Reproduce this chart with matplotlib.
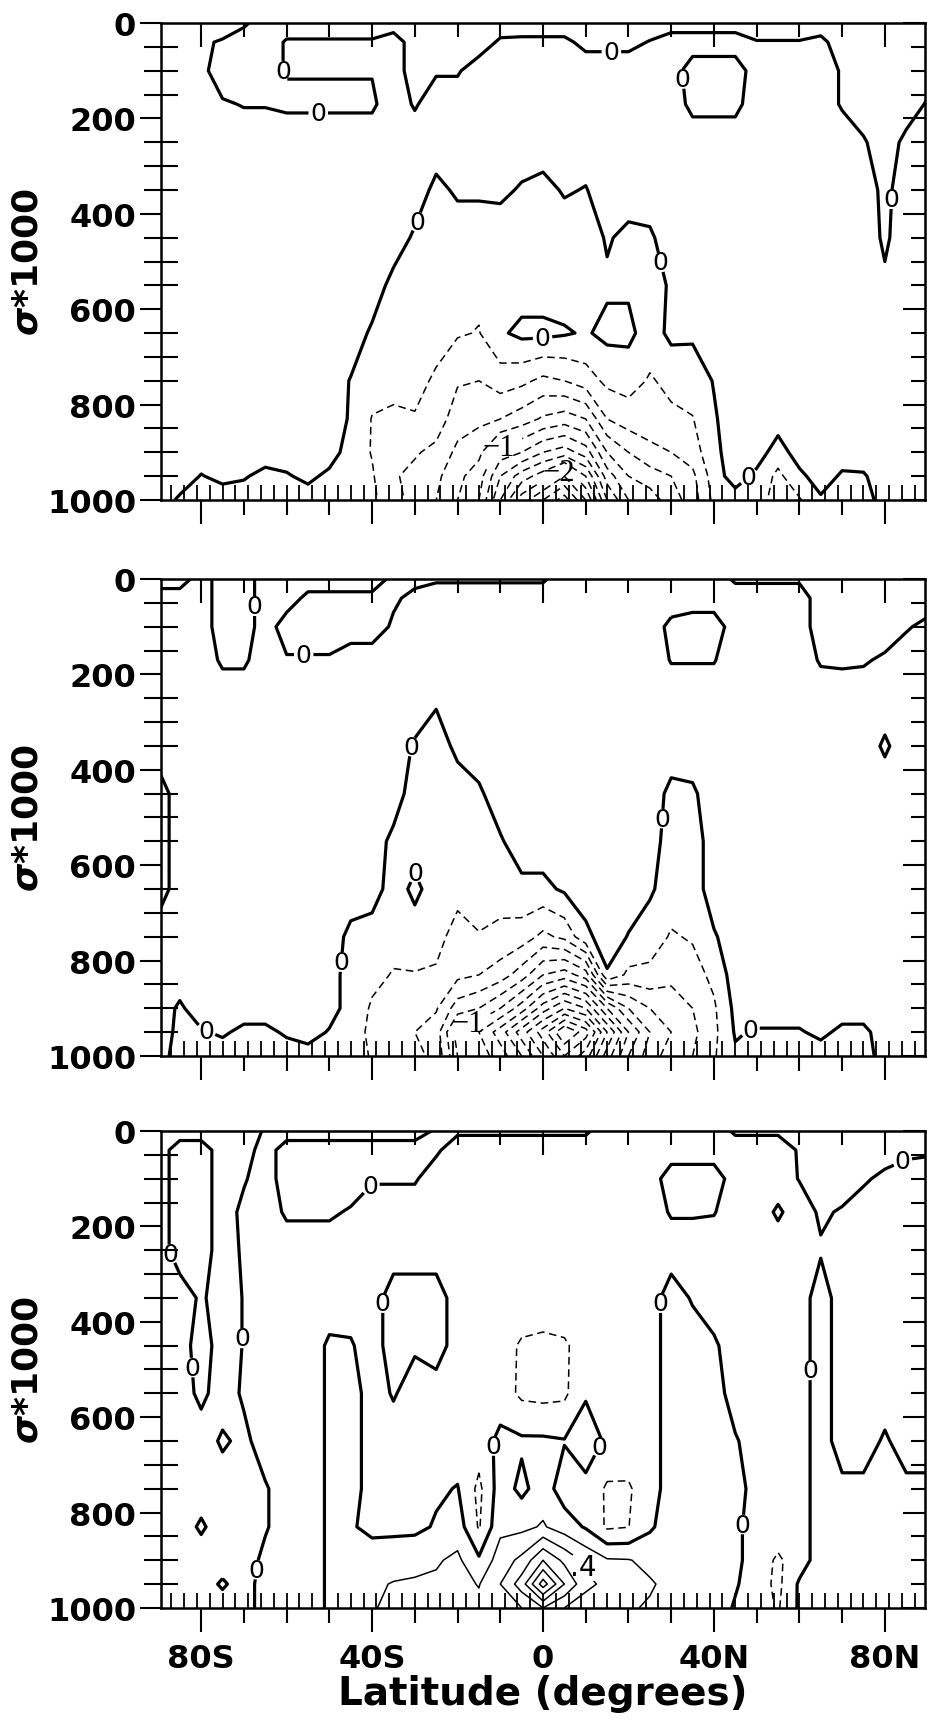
import numpy as np
import matplotlib
matplotlib.use('Agg')
import matplotlib.pyplot as plt
from matplotlib.ticker import MultipleLocator, NullFormatter

plt.rcParams['font.family'] = ['DejaVu Sans']
plt.rcParams['font.weight'] = 'bold'
plt.rcParams['axes.labelweight'] = 'bold'
plt.rcParams['lines.dashed_pattern'] = [5, 3]

# grid of the fields: latitude (deg, S negative) and sigma*1000
LAT = [-90, -85, -80, -75, -70, -65, -60, -55, -50, -45, -40, -35, -30, -25, -20, -15, -10, -5,
       0, 5, 10, 15, 20, 25, 30, 35, 40, 45, 50, 55, 60, 65, 70, 75, 80, 85, 90]
SIGMA = [0, 40, 100, 170, 250, 350, 450, 550, 650, 750, 830, 900, 950, 1000]

# contour levels (field values in tenths)
NEG_LEVELS = [-28, -26, -24, -22, -20, -18, -16, -14, -12, -10, -8, -6, -4, -2]
POS_LEVELS = [2, 4, 6, 8, 10, 12]
LABEL_TEXT = {-10: '\u22121', -20: '\u22122', 4: '.4'}

XTICKS = [-80, -40, 0, 40, 80]
XTICKLABELS = ['80S', '40S', '0', '40N', '80N']
YTICKS = [0, 200, 400, 600, 800, 1000]

# one row per sigma level (top to bottom)
PANEL1 = [
    [1, 1, 1, 1, .3, -1, -1, -1, -1, -1, -1, -1, -1, -1, -1, -1, -1, -1, -1, -1, -1, -1, -1, -1, -1, -1, -1, -1, -1, -1, -1, -1, -1, -1, -1, -1, -1],
    [1, 1, .3, -.2, -1, -1, .2, .2, .2, .2, .2, 1, -1, -1, -1, -1, .3, .4, .4, .4, -.5, -.5, -.5, .1, 1, 1, 1, 1, .1, .1, .1, .5, -1, -1, -1, -1, -1],
    [1, 1, .5, -1, -1, -.5, .1, .1, .1, .1, .1, 1, -1, -.2, -.2, 1, 1, 1, 1, 1, 1, 1, 1, 1, 1, -1, -1, -1, 1, 1, 1, 1, -.2, -1, -1, -1, -1],
    [1, 1, 1, .2, -.1, -.1, -.3, -.3, -.3, -.3, -.3, 1, -.2, 1, 1, 1, 1, 1, 1, 1, 1, 1, 1, 1, 1, -.5, -.5, -.5, 1, 1, 1, 1, -.2, -1, -1, -1, .2],
    [1, 1, 1, 1, 1, 1, 1, 1, 1, 1, 1, 1, 1, 1, 1, 1, 1, 1, 1, 1, 1, 1, 1, 1, 1, 1, 1, 1, 1, 1, 1, 1, 1, .2, -1, .5, 1],
    [1, 1, 1, 1, 1, 1, 1, 1, 1, 1, 1, 1, 1, -.5, .3, .3, .4, -.2, -.6, .2, -.1, 1, 1, 1, 1, 1, 1, 1, 1, 1, 1, 1, 1, 1, -.5, 1, 1],
    [1, 1, 1, 1, 1, 1, 1, 1, 1, 1, 1, 1, -.3, -1, -1, -1, -1, -1, -1, -1, -1, .2, -.5, -.3, 1, 1, 1, 1, 1, 1, 1, 1, 1, 1, -.3, 1, 1],
    [1, 1, 1, 1, 1, 1, 1, 1, 1, 1, 1, -.6, -1, -1.2, -1.3, -1.5, -1, -1, -1, -1, -1, -.3, -.3, -1, .3, 1, 1, 1, 1, 1, 1, 1, 1, 1, .3, 1, 1],
    [1, 1, 1, 1, 1, 1, 1, 1, 1, 1, -.3, -1, -1.2, -1.5, -1.8, -2.1, -.3, .5, .5, .2, -.2, .5, .5, -1, .5, .3, 1, 1, 1, 1, 1, 1, 1, 1, 1, 1, 1],
    [1, 1, 1, 1, 1, 1, 1, 1, 1, -.1, -1.2, -1.5, -1.6, -2.2, -3.8, -4, -3, -3.5, -4.5, -4, -3, -1.5, -1.2, -2.2, -1.5, -1, .1, 1, 1, 1, 1, 1, 1, 1, 1, 1, 1],
    [1, 1, 1, 1, 1, 1, 1, 1, 1, -.2, -2.1, -2.3, -2.1, -3, -5, -5.5, -6, -7, -8.3, -9, -8, -4, -3, -3, -2.4, -2.1, -.2, 1, 1, 1, 1, 1, 1, 1, 1, 1, 1],
    [1, 1, 1, 1, 1, 1, 1, 1, 1, -1, -2.1, -3.5, -3.8, -4.5, -6.5, -7.5, -11, -12, -14, -15, -13, -8, -6, -4.5, -4, -3, -.5, 1, 1, -1, 1, 1, 1, 1, 1, 1, 1],
    [1, 1, -.1, .5, .2, -.6, -.2, .5, -.5, -1, -1.8, -3.8, -4.5, -5.5, -7.5, -9, -14, -17, -19, -22, -18, -11, -8, -7, -6, -4.5, -1, 1, -.5, -2.5, -.5, 1, -.3, -.2, 1, 1, 1],
    [1, -.3, -1, -1, -1, -1, -1, -1, -1, -1, -1.5, -3.5, -4.5, -6, -8, -10, -16, -21, -24, -27, -22, -14, -10, -9, -7, -5, -1.5, -1, -1, -3, -2.2, -.3, -1, -1, 1, 1, 1],
]

PANEL2 = [
    [-1, -1, 1, -1, -1, 1, 1, 1, 1, 1, 1, -.5, -.5, -.25, -.25, -.25, -.25, -.25, -.25, 1, 1, 1, 1, 1, 1, 1, 1, -.3, -.3, -.3, -.3, -1, -1, -1, -1, -1, -1],
    [1, 1, 1, -1, -1, 1, 1, -.5, -.5, -.5, -.5, -.3, .5, 1, 1, 1, 1, 1, 1, 1, 1, 1, 1, 1, 1, 1, 1, 1, 1, 1, 1, -1, -1, -1, -1, -1, -1],
    [1, 1, 1, -1, -1, 1, -1, -1, -1, -1, -1, .3, 1, 1, 1, 1, 1, 1, 1, 1, 1, 1, 1, 1, -.5, -1, -1, 1, 1, 1, 1, -1, -1, -1, -1, -.2, .5],
    [1, 1, 1, -.3, -.3, 1, .2, .2, .2, 1, 1, 1, 1, 1, 1, 1, 1, 1, 1, 1, 1, 1, 1, 1, -.1, -.1, -.1, 1, 1, 1, 1, -.2, -.3, -.2, .3, 1, 1],
    [1, 1, 1, 1, 1, 1, 1, 1, 1, 1, 1, 1, 1, .3, 1, 1, 1, 1, 1, 1, 1, 1, 1, 1, 1, 1, 1, 1, 1, 1, 1, 1, 1, 1, 1, 1, 1],
    [1, 1, 1, 1, 1, 1, 1, 1, 1, 1, 1, 1, -.2, -1, .5, 1, 1, 1, 1, 1, 1, 1, 1, 1, 1, 1, 1, 1, 1, 1, 1, 1, 1, 1, -.3, 1, 1],
    [-1, 1, 1, 1, 1, 1, 1, 1, 1, 1, 1, 1, -1, -1, -1, -.3, 1, 1, 1, 1, 1, 1, 1, 1, -.5, -.3, 1, 1, 1, 1, 1, 1, 1, 1, 1, 1, 1],
    [-1, 1, 1, 1, 1, 1, 1, 1, 1, 1, 1, -.5, -1, -1, -1, -1, -.2, 1, 1, 1, 1, 1, 1, 1, -1, -1, 1, 1, 1, 1, 1, 1, 1, 1, 1, 1, 1],
    [-1, 1, 1, 1, 1, 1, 1, 1, 1, 1, 1, -1, .5, -1, -1.5, -1.2, -1.2, -.5, -.5, .3, 1, 1, 1, .3, -1, -1, 1, 1, 1, 1, 1, 1, 1, 1, 1, 1, 1],
    [1, 1, 1, 1, 1, 1, 1, 1, 1, -.5, -1, -1.5, -1, -1.5, -2.6, -2.1, -2.5, -3, -4.5, -3.5, -.5, 1, -.1, -1, -2.2, -1.8, -.2, 1, 1, 1, 1, 1, 1, 1, 1, 1, 1],
    [1, 1, 1, 1, 1, 1, 1, 1, 1, -1, -1.6, -2.1, -2.1, -2.2, -3.5, -4, -5, -7, -10, -11, -9, -.2, -2.5, -2.5, -3.5, -2.8, -1.5, 1, 1, 1, 1, 1, 1, 1, 1, 1, 1],
    [1, -.3, 1, 1, 1, 1, 1, 1, 1, -1, -2.2, -3, -3.2, -3.8, -7, -8, -10, -13, -17, -20, -18, -12, -8, -6, -5, -4, -2.3, .5, 1, 1, 1, 1, 1, 1, 1, 1, 1],
    [1, -.5, -.2, .3, -.5, -.5, .3, 1, -.2, -1, -2.5, -3.5, -4, -5, -11, -12, -15, -19, -23, -28, -25, -18, -12, -8, -6, -4.5, -2.5, .2, -.2, -.2, -.2, .5, -.5, -.5, 1, 1, 1],
    [1, -1, -1, -1, -1, -1, -1, -1, -1, -1, -2.2, -3, -3.5, -4.5, -10, -11, -13, -16, -20, -24, -21, -15, -10, -7, -5, -4, -2.2, -.3, -1, -1, -1, -1, -1, -1, 1, 1, 1],
]

PANEL3 = [
    [1, 1, 1, 1, 1, -.2, -1, -1, -1, -1, -1, -1, -1, .3, .3, .3, .3, .3, .3, .3, .3, -1, -1, -1, -1, -1, -1, .3, .3, .3, 1, 1, 1, 1, 1, 1, 1],
    [1, -1, -1, 1, 1, -1, 1, 1, 1, 1, 1, 1, 1, .3, -1, -1, -1, -1, -1, -1, -1, -1, -1, -1, -1, -1, -1, -1, -1, -1, .2, 1, 1, 1, 1, .5, .3],
    [1, -1, -1, 1, .2, -1, 1, 1, 1, 1, .2, .2, .2, -1, -1, -1, -1, -1, -1, -1, -1, -1, -1, -1, 1, 1, 1, -1, -1, -1, .1, 1, 1, .3, -.5, -1, -1],
    [1, -1, -1, 1, -.5, -1, .3, .3, .3, -.2, -1, -1, -1, -1, -1, -1, -1, -1, -1, -1, -1, -1, -1, -1, .2, .2, .1, -1, -1, .3, -1, .3, -.2, -1, -1, -1, -1],
    [1, -1, -1, 1, -.3, -1, -1, -1, -1, -1, -1, -1, -1, -1, -1, -1, -1, -1, -1, -1, -1, -1, -1, -1, -1, -1, -1, -1, -1, -1, -1, -.2, -1, -1, -1, -1, -1],
    [1, 1, -.3, 1, -.1, -1, -1, -1, -1, -1, -1, 1, 1, 1, -1, -1, -1, -.5, -.5, -.5, -1, -1, -1, -1, 1, -.2, -1, -1, -1, -1, -1, 1, -1, -1, -1, -1, -1],
    [1, 1, -1, 1, -.1, -1, -1, -1, .3, .2, -1, 1, .3, 1, -1, -1, -1, -2.3, -2.6, -2.3, -1, -1, -1, -1, 1, 1, .3, -1, -1, -1, -1, 1, -1, -1, -1, -1, -1],
    [1, 1, -.5, 1, -.3, -1, -1, -1, .3, 1, -1, .2, -1, -1, -1, -1, -1, -2.4, -2.6, -2.4, -.2, -1, -1, -1, 1, 1, 1, -1, -1, -1, -1, 1, -1, -1, -1, -1, -1],
    [1, 1, 1, -.3, .5, -1, -1, -1, .3, 1, -1, -1, -1, -1, -1, -1, .5, .3, .3, .1, 1, -.3, -1, -1, 1, 1, .3, .2, -1, -1, -1, 1, -1, -1, .3, -1, -1],
    [1, 1, 1, 1, 1, .2, -1, -1, .3, 1, -1, -1, -1, -.3, .1, -2.5, 1, -.5, 1, -1, -.5, -2.3, -2.2, -1, 1, 1, 1, 1, -1, -1, -1, 1, .5, .5, 1, .5, .5],
    [1, 1, -.3, 1, 1, .2, -1, -1, .3, .2, -.5, -.5, -.5, .2, 1, -2.2, 1.5, 1.5, 2.2, 1, -.2, -2.3, -2.05, -.3, 1, 1, 1, .5, -1, -1, -1, 1, 1, 1, 1, 1, 1],
    [1, 1, 1, 1, 1, -.5, -1, -1, .3, 1, 1, 1.2, 1.5, 1.8, 2.4, .3, 3, 4.5, 8, 5.5, 3.5, 2.2, 2.1, 1.5, 1.2, 1, 1, .5, -1, -2.3, -1, 1, 1, 1, 1, 1, 1],
    [1, 1, 1, -.3, 1, -1, -1, -1, .3, 1, 1.7, 2.1, 2.2, 2.3, 2.6, 1.9, 4, 7, 13, 8, 4.5, 3.5, 2.8, 2.2, 1.5, 1, 1, .2, -1, -2.5, .3, 1, 1, 1, 1, 1, 1],
    [1, 1, 1, 1, 1, -1, -1, -1, .3, 1, 1.9, 2.3, 2.4, 2.3, 2.5, 2.5, 3, 4, 6, 4, 3, 2.5, 2.2, 1.8, 1.2, 1, 1, -.2, -1, -2.2, .3, 1, 1, 1, 1, 1, 1],
]

# hand-placed value labels: (lat, sigma, level)
LABELS1 = [(-10.8, 886, -10), (3.3, 935, -20)]
LABELS2 = [(-17.8, 929, -10)]
LABELS3 = [(10.3, 912, 4)]

# where the "0" labels sit on the zero lines: (lat, sigma)
ZERO1 = [(-64, 111), (-52.6, 184), (-31, 411), (16, 72), (33, 117), (28, 501),
         (0, 677), (83, 370), (48.5, 956)]
ZERO2 = [(-68, 57), (-56, 164), (-30.4, 352), (-28.3, 602), (-47.5, 803),
         (-78.6, 943), (28.8, 503), (49, 958)]
ZERO3 = [(-40.5, 114), (-83.7, 244), (-37.4, 361), (-71, 435), (-85, 498), (-67, 920),
         (84.4, 68), (27.8, 361), (62.7, 502), (-13.8, 661), (13.8, 665), (45.4, 824)]

fig = plt.figure(figsize=(9.28, 17.33), dpi=100)
left, width, height = 0.1735, 0.8233, 0.2752
bottoms = [0.7109, 0.3901, 0.0716]


def style_axes(ax, show_x):
    ax.set_xlim(-89.4, 89.4)
    ax.set_ylim(1000, 0)
    for s in ax.spines.values():
        s.set_linewidth(1.8)
    ax.set_yticks(YTICKS)
    ax.yaxis.set_minor_locator(MultipleLocator(50))
    ax.tick_params(axis='y', which='major', direction='out', length=15, width=1.5,
                   labelsize=23, pad=3)
    ax.tick_params(axis='y', which='minor', direction='inout', length=24, width=1.5)
    ax.set_xticks(XTICKS)
    ax.set_xticklabels(XTICKLABELS)
    ax.xaxis.set_minor_locator(MultipleLocator(10))
    ax.tick_params(axis='x', which='major', direction='out', length=17, width=1.5,
                   labelsize=23, pad=8, labelbottom=show_x)
    ax.tick_params(axis='x', which='minor', direction='out', length=11, width=1.5)
    ax.set_ylabel('$\\sigma$*1000', fontsize=26, labelpad=2)

    top = ax.secondary_xaxis('top')
    top.set_xticks(XTICKS)
    top.xaxis.set_minor_locator(MultipleLocator(10))
    top.xaxis.set_major_formatter(NullFormatter())
    top.tick_params(which='major', direction='in', length=17, width=1.5)
    top.tick_params(which='minor', direction='in', length=10, width=1.5)

    inner = ax.secondary_xaxis('bottom')
    inner.xaxis.set_major_locator(MultipleLocator(3))
    inner.xaxis.set_major_formatter(NullFormatter())
    inner.tick_params(which='major', direction='in', length=11, width=1.3)
    inner.tick_params(which='minor', length=0)
    inner.spines['bottom'].set_visible(False)

    right = ax.secondary_yaxis('right')
    right.set_yticks(YTICKS)
    right.yaxis.set_minor_locator(MultipleLocator(50))
    right.yaxis.set_major_formatter(NullFormatter())
    right.tick_params(which='major', direction='in', length=16, width=1.5)
    right.tick_params(which='minor', direction='in', length=10, width=1.5)


def draw_panel(ax, field, labels, zero_spots):
    z = np.array(field, dtype=float)
    labelled = [lev for _, _, lev in labels]
    neg = [lev for lev in NEG_LEVELS if lev not in labelled]
    pos = [lev for lev in POS_LEVELS if lev not in labelled]
    ax.contour(LAT, SIGMA, z, levels=neg, colors='k', linewidths=1.1, linestyles='dashed')
    if z.max() > POS_LEVELS[0]:
        ax.contour(LAT, SIGMA, z, levels=pos, colors='k', linewidths=1.1, linestyles='solid')
    cs0 = ax.contour(LAT, SIGMA, z, levels=[0], colors='k', linewidths=2.3,
                     linestyles='solid')
    zt = ax.clabel(cs0, manual=zero_spots, fmt={0: '0'}, fontsize=18, inline=True,
                   inline_spacing=1)
    for t in zt:
        t.set_rotation(0)
        t.set_fontweight('normal')
    for x, y, lev in labels:
        style = 'dashed' if lev < 0 else 'solid'
        cs = ax.contour(LAT, SIGMA, z, levels=[lev], colors='k', linewidths=1.1,
                        linestyles=style)
        texts = ax.clabel(cs, manual=[(x, y)], fmt=LABEL_TEXT,
                          fontsize=22 if lev < 0 else 20, inline=True, inline_spacing=2)
        for t in texts:
            t.set_rotation(0)
            t.set_fontweight('normal')
            if lev < 0:
                t.set_fontfamily(['Liberation Serif', 'DejaVu Serif'])


panels = [(PANEL1, LABELS1, ZERO1), (PANEL2, LABELS2, ZERO2), (PANEL3, LABELS3, ZERO3)]
for i, (field, labels, zero_spots) in enumerate(panels):
    ax = fig.add_axes([left, bottoms[i], width, height])
    style_axes(ax, show_x=(i == 2))
    draw_panel(ax, field, labels, zero_spots)
    if i == 2:
        ax.set_xlabel('Latitude (degrees)', fontsize=28, labelpad=0)

fig.savefig('out.png', dpi=100)
